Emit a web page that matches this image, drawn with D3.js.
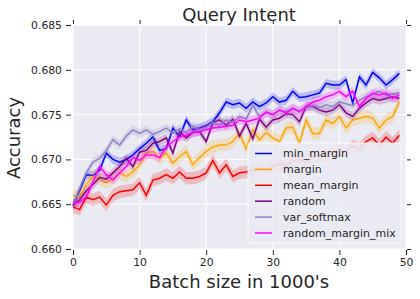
<!DOCTYPE html>
<html>
<head>
<meta charset="utf-8">
<script src="https://cdn.jsdelivr.net/npm/d3@7"></script>
<style>
  body { margin: 0; background: #fff; }
  svg { font-family: "DejaVu Sans", sans-serif; }
</style>
</head>
<body>
<svg width="420" height="299"></svg>
<script>
// batch index 0..49 (thousands)
var batches = d3.range(0, 50);

var seriesNames = ["min_margin", "margin", "mean_margin", "random", "var_softmax", "random_margin_mix"];
var seriesColors = ["#0000ff", "#ffa500", "#ff0000", "#800080", "#9080c8", "#ff00ff"];

var minMargin = [0.6648, 0.6665, 0.6683, 0.6682, 0.6688, 0.6707, 0.6700, 0.6697, 0.6700, 0.6705,
  0.6712, 0.6718, 0.6725, 0.6710, 0.6712, 0.6735, 0.6725, 0.6744, 0.6733, 0.6735,
  0.6738, 0.6742, 0.6752, 0.6764, 0.6761, 0.6763, 0.6757, 0.6764, 0.6759, 0.6763,
  0.6770, 0.6764, 0.6766, 0.6776, 0.6769, 0.6770, 0.6772, 0.6774, 0.6785, 0.6783,
  0.6783, 0.6789, 0.6763, 0.6792, 0.6783, 0.6797, 0.6791, 0.6783, 0.6789, 0.6796];

var margin = [0.6660, 0.6658, 0.6672, 0.6681, 0.6678, 0.6674, 0.6678, 0.6685, 0.6681, 0.6686,
  0.6694, 0.6707, 0.6709, 0.6701, 0.6707, 0.6696, 0.6703, 0.6709, 0.6694, 0.6702,
  0.6709, 0.6714, 0.6716, 0.6716, 0.6720, 0.6729, 0.6712, 0.6733, 0.6722, 0.6730,
  0.6724, 0.6720, 0.6735, 0.6736, 0.6718, 0.6744, 0.6729, 0.6729, 0.6744, 0.6740,
  0.6748, 0.6735, 0.6744, 0.6746, 0.6748, 0.6746, 0.6735, 0.6744, 0.6748, 0.6764];

var meanMargin = [0.6647, 0.6644, 0.6658, 0.6655, 0.6658, 0.6649, 0.6660, 0.6664, 0.6665, 0.6666,
  0.6674, 0.6660, 0.6677, 0.6679, 0.6683, 0.6679, 0.6686, 0.6679, 0.6679, 0.6681,
  0.6685, 0.6699, 0.6685, 0.6694, 0.6681, 0.6685, 0.6686, 0.6688, 0.6690, 0.6689,
  0.6692, 0.6695, 0.6693, 0.6698, 0.6700, 0.6697, 0.6702, 0.6705, 0.6703, 0.6708,
  0.6710, 0.6708, 0.6715, 0.6712, 0.6720, 0.6724, 0.6716, 0.6725, 0.6718, 0.6727];

var random = [0.6649, 0.6655, 0.6665, 0.6672, 0.6680, 0.6678, 0.6685, 0.6692, 0.6701, 0.6692,
  0.6708, 0.6710, 0.6718, 0.6720, 0.6724, 0.6707, 0.6731, 0.6724, 0.6730, 0.6731,
  0.6720, 0.6741, 0.6744, 0.6738, 0.6745, 0.6726, 0.6740, 0.6723, 0.6745, 0.6736,
  0.6744, 0.6746, 0.6751, 0.6750, 0.6742, 0.6759, 0.6759, 0.6755, 0.6753, 0.6755,
  0.6761, 0.6752, 0.6748, 0.6757, 0.6763, 0.6768, 0.6766, 0.6768, 0.6770, 0.6768];

var varSoftmax = [0.6650, 0.6668, 0.6685, 0.6697, 0.6701, 0.6710, 0.6722, 0.6716, 0.6726, 0.6733,
  0.6729, 0.6733, 0.6728, 0.6731, 0.6735, 0.6729, 0.6734, 0.6730, 0.6737, 0.6733,
  0.6736, 0.6741, 0.6738, 0.6744, 0.6741, 0.6748, 0.6745, 0.6760, 0.6748, 0.6752,
  0.6750, 0.6755, 0.6753, 0.6757, 0.6754, 0.6758, 0.6760, 0.6758, 0.6761, 0.6759,
  0.6764, 0.6762, 0.6760, 0.6766, 0.6770, 0.6773, 0.6776, 0.6772, 0.6773, 0.6774];

var randomMarginMix = [0.6651, 0.6652, 0.6658, 0.6675, 0.6692, 0.6683, 0.6677, 0.6685, 0.6692, 0.6702,
  0.6699, 0.6705, 0.6705, 0.6702, 0.6714, 0.6720, 0.6725, 0.6727, 0.6730, 0.6731,
  0.6733, 0.6735, 0.6736, 0.6737, 0.6738, 0.6744, 0.6742, 0.6744, 0.6746, 0.6753,
  0.6750, 0.6755, 0.6752, 0.6757, 0.6753, 0.6759, 0.6764, 0.6766, 0.6770, 0.6772,
  0.6776, 0.6770, 0.6776, 0.6759, 0.6768, 0.6774, 0.6772, 0.6774, 0.6768, 0.6772];

// half width of the confidence band, one per series
var bandHalf = [0.0005, 0.0007, 0.0007, 0.0005, 0.0005, 0.0005];

var xTicks = [0, 10, 20, 30, 40, 50];
var yTicks = [0.660, 0.665, 0.670, 0.675, 0.680, 0.685];

var allSeries = [minMargin, margin, meanMargin, random, varSoftmax, randomMarginMix];

var svg = d3.select("svg");
var pLeft = 73, pRight = 406, pTop = 25, pBottom = 249;
var ink = "#262626";

var x = d3.scaleLinear().domain([0, 50]).range([pLeft, pRight]);
var y = d3.scaleLinear().domain([0.660, 0.685]).range([pBottom, pTop]);

svg.append("rect")
  .attr("x", pLeft).attr("y", pTop)
  .attr("width", pRight - pLeft).attr("height", pBottom - pTop)
  .attr("fill", "#eaeaf2");

// grid
svg.append("g").selectAll("line").data(xTicks).enter().append("line")
  .attr("x1", d => x(d)).attr("x2", d => x(d))
  .attr("y1", pTop).attr("y2", pBottom)
  .attr("stroke", "#fff").attr("stroke-width", 1);
svg.append("g").selectAll("line").data(yTicks).enter().append("line")
  .attr("x1", pLeft).attr("x2", pRight)
  .attr("y1", d => y(d)).attr("y2", d => y(d))
  .attr("stroke", "#fff").attr("stroke-width", 1);

// axes, ticks on all four sides
function styleAxis(g) {
  g.select(".domain").remove();
  g.selectAll(".tick line").attr("stroke", ink);
  g.selectAll(".tick text").attr("fill", ink)
    .style("font-size", "10.8px")
    .style("font-family", "DejaVu Sans");
}
svg.append("g").attr("transform", "translate(0," + (pBottom + 1) + ")")
  .call(d3.axisBottom(x).tickValues(xTicks).tickSize(5).tickPadding(3).tickFormat(d3.format("d")))
  .call(styleAxis);
svg.append("g").attr("transform", "translate(" + (pLeft - 2) + ",0)")
  .call(d3.axisLeft(y).tickValues(yTicks).tickSize(5).tickPadding(4).tickFormat(d3.format(".3f")))
  .call(styleAxis);
var topAxis = svg.append("g").attr("transform", "translate(0," + (pTop - 1) + ")")
  .call(d3.axisTop(x).tickValues(xTicks).tickSize(4))
  .call(styleAxis);
topAxis.selectAll(".tick text").remove();
var rightAxis = svg.append("g").attr("transform", "translate(" + (pRight + 1) + ",0)")
  .call(d3.axisRight(y).tickValues(yTicks).tickSize(4))
  .call(styleAxis);
rightAxis.selectAll(".tick text").remove();

var plot = svg.append("g");
var line = d3.line().x((d, i) => x(batches[i])).y(d => y(d));

allSeries.forEach(function(vals, k) {
  var area = d3.area()
    .x((d, i) => x(batches[i]))
    .y0(d => y(d - bandHalf[k]))
    .y1(d => y(d + bandHalf[k]));
  plot.append("path").datum(vals)
    .attr("d", area)
    .attr("fill", seriesColors[k])
    .attr("fill-opacity", 0.2);
  plot.append("path").datum(vals)
    .attr("d", line)
    .attr("fill", "none")
    .attr("stroke", seriesColors[k])
    .attr("stroke-width", 1.5);
});

// titles
svg.append("text").attr("x", 239).attr("y", 21)
  .attr("text-anchor", "middle").attr("fill", ink)
  .style("font-size", "18px").text("Query Intent");
svg.append("text").attr("x", 239).attr("y", 288)
  .attr("text-anchor", "middle").attr("fill", ink)
  .style("font-size", "18px").text("Batch size in 1000's");
svg.append("text").attr("transform", "translate(20,138) rotate(-90)")
  .attr("text-anchor", "middle").attr("fill", ink)
  .style("font-size", "18px").text("Accuracy");

// legend
var legend = svg.append("g").attr("class", "legend");
legend.append("rect")
  .attr("x", 248).attr("y", 143).attr("width", 153).attr("height", 100)
  .attr("rx", 2.5)
  .attr("fill", "#eaeaf2").attr("fill-opacity", 0.9)
  .attr("stroke", "#fff").attr("stroke-opacity", 0.8);
var rows = legend.selectAll("g.row").data(seriesNames).enter().append("g")
  .attr("transform", (d, i) => "translate(0," + (153.5 + i * 15.9) + ")");
rows.append("line")
  .attr("x1", 255).attr("x2", 272)
  .attr("stroke", (d, i) => seriesColors[i]).attr("stroke-width", 1.5);
rows.append("text")
  .attr("x", 283).attr("dy", "0.35em")
  .attr("fill", ink).style("font-size", "11px")
  .text(d => d);
</script>
</body>
</html>
